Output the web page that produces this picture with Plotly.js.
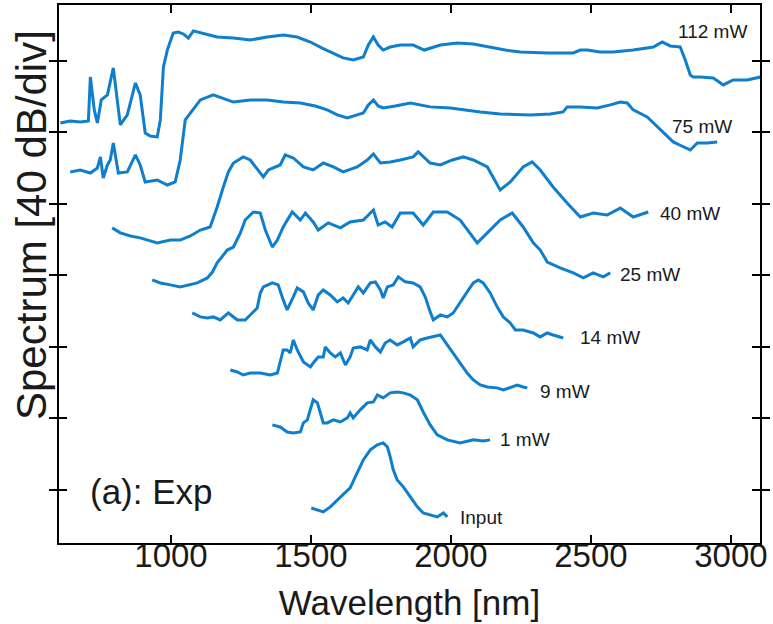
<!DOCTYPE html>
<html>
<head>
<meta charset="utf-8">
<script src="https://cdn.plot.ly/plotly-3.0.1.min.js"></script>
<style>html,body{margin:0;padding:0;background:#fff;}#chart{width:773px;height:624px;}</style>
</head>
<body>
<div id="chart"></div>
<script>
// Wavelength [nm] and spectrum [dB, offset traces]
const wl_112 = [605,640,676,705,712,726,737,751,773,794,808,819,844,873,890,908,926,951,962,973,987,1008,1026,1044,1062,1080,1123,1165,1223,1283,1344,1401,1451,1498,1540,1580,1615,1651,1687,1705,1723,1740,1758,1783,1819,1865,1905,1962,2023,2080,2140,2194,2248,2344,2437,2462,2487,2533,2580,2651,2723,2755,2783,2819,2837,2855,2865,2890,2937,2973,3008,3058,3105];
const db_112 = [205.3,206.4,205.9,206.4,231,212.6,205.3,218.2,221,236.1,218.2,204.2,209.8,227.7,221,199.7,198,197.5,207,236.6,246.1,255.6,256.2,255.1,252.8,256.8,255.1,253.4,252.8,251.7,253.4,254.5,253.4,250.6,247.2,244.5,241.7,240.5,242.2,248.9,253.4,248.9,246.1,247.8,248.9,248.9,246.1,248.9,250,249.5,247.8,246.1,245,244.5,244.5,246.1,246.1,245,245,246.1,247.8,250.6,248.4,247.8,240.5,232.1,231,231,230.5,226.6,229.4,229.4,231];

const wl_75 = [640,676,712,737,748,758,773,783,794,805,812,844,862,873,890,908,951,987,1015,1033,1051,1069,1105,1151,1223,1283,1344,1401,1462,1515,1558,1594,1630,1665,1687,1705,1723,1740,1758,1801,1855,1926,1998,2105,2176,2283,2355,2401,2415,2462,2523,2569,2605,2630,2651,2701,2730,2758,2794,2830,2855,2880,2915,2951];
const db_75 = [177.9,179,177.3,180.1,186.3,174.5,181.8,184.6,194.1,184.6,177.3,177.9,183.5,187.4,181.8,172.3,173.4,170.6,172.3,184.6,207,210.9,218.2,221,217,218.2,218.2,217,216.5,214.8,212.6,209.8,208.1,209.8,210.9,215.4,218.2,214.8,213.7,214.8,216.5,214.3,213.7,211.5,210.3,209.8,210.3,211.5,214.3,214.3,213.7,215.4,217,216.5,212.6,208.7,204.2,199.7,194.7,192,190.2,194.1,194.1,194.7];

const wl_40 = [790,819,855,890,926,951,998,1033,1069,1105,1140,1155,1165,1187,1205,1223,1258,1283,1312,1330,1348,1390,1408,1437,1473,1508,1544,1580,1615,1665,1701,1723,1748,1783,1819,1865,1883,1926,1962,2005,2044,2080,2130,2151,2176,2212,2258,2290,2319,2365,2415,2462,2508,2558,2605,2651,2705];
const db_40 = [146.6,143.8,142.1,141,139.3,138.2,139.8,139.8,142.1,145.4,147.1,153.8,158.3,169.5,177.9,182.9,186.3,184.6,179,175.1,179,181.8,187.4,185.7,180.7,179,182.9,180.7,177.9,180.7,184.6,188,182.9,183.5,184.6,186.3,189.1,182.9,181.8,184.6,186.3,184.6,180.7,175.1,167.8,172.3,180.7,183.5,179,169.5,160.5,152.7,154.9,153.8,157.7,152.7,155.5];

const wl_25 = [933,962,998,1033,1094,1130,1148,1165,1201,1223,1248,1265,1294,1319,1337,1362,1380,1401,1433,1462,1480,1508,1526,1562,1605,1640,1687,1723,1740,1765,1790,1819,1865,1901,1937,1987,2033,2069,2094,2130,2176,2219,2258,2294,2319,2344,2390,2437,2473,2508,2544,2569];
const db_25 = [117.5,115.8,114.7,113.6,115.8,118.6,121.9,127,134.2,135.9,143.8,151,155.5,154.9,145.4,135.9,139.8,147.1,155.5,151,154.9,149.9,145.4,149.4,146.6,149.9,151,156.6,148.2,149.9,147.1,154.9,154.9,148.2,155.5,155.5,151,143.8,138.2,143.8,151,154.9,147.1,138.2,134.2,127.5,124.2,121.4,118.6,121.4,119.2,121.4];

const wl_14 = [1076,1105,1130,1151,1176,1205,1237,1265,1290,1308,1319,1330,1362,1383,1401,1415,1437,1451,1473,1490,1508,1526,1544,1569,1594,1615,1633,1651,1669,1687,1712,1730,1748,1758,1773,1794,1812,1837,1865,1890,1908,1926,1937,1962,1987,2008,2033,2058,2080,2098,2115,2140,2165,2187,2212,2230,2258,2294,2319,2344,2365,2401];
const db_14 = [99,96.8,96.2,96.8,95.1,99,95.1,95.1,99,101.8,110.2,113.6,115.8,114.7,106.3,100.7,108,113,110.8,104.6,100.7,109.1,111.9,109.1,105.2,107.4,104.6,109.1,113.6,110.2,115.8,116.4,111.9,107.4,113.6,114.7,119.2,116.4,115.8,113.6,108,99.6,95.1,97.9,96.8,99,105.2,110.8,115.8,117.5,115.8,110.2,102.4,96.8,93.4,89.5,89.5,87.8,85.6,87.8,86.7,85];

const wl_9 = [1212,1237,1258,1283,1319,1355,1380,1390,1401,1415,1426,1437,1451,1473,1498,1508,1526,1544,1551,1569,1587,1605,1623,1640,1651,1676,1701,1712,1730,1748,1765,1783,1808,1830,1855,1865,1890,1915,1937,1962,1987,2008,2033,2058,2080,2105,2130,2165,2187,2212,2237,2258,2273];
const db_9 = [67.1,66,64.3,65.4,65.4,64.3,65.4,71,78.3,78.3,76.6,83.9,78.3,71.6,68.8,71,74.4,74.4,80,76.6,74.4,76.6,69.9,74.4,79.4,80,78.3,83.9,80,77.2,82.2,83.9,81.1,82.8,85,80,83.9,85,85.6,86.7,81.1,76.6,71,65.4,61.5,58.7,57.6,57.1,55.9,57.1,58.7,57.6,57.1];

const wl_1 = [1362,1390,1415,1437,1462,1473,1487,1498,1508,1523,1533,1544,1558,1580,1605,1630,1640,1651,1676,1701,1723,1737,1758,1783,1808,1830,1855,1880,1901,1926,1951,1987,2033,2080,2115,2140];
const db_1 = [36.4,35.2,32.4,31.9,32.4,37.5,39.2,44.8,50.4,48.7,43.6,37.5,37.5,39.2,38,40.3,43.1,40.3,44.8,48.7,49.2,53.1,51.5,54.3,54.8,54.3,53.1,50.4,43.6,36.4,30.8,28,26.3,28,27.4,28];

const wl_in = [1501,1522,1544,1569,1594,1615,1640,1665,1687,1712,1737,1758,1773,1783,1794,1808,1830,1855,1880,1901,1926,1951,1973,1987];
const db_in = [-10.1,-11.2,-12.3,-9.5,-5.6,-2.8,1.1,9.5,16.8,22.4,25.2,26.3,24.1,18.5,11.2,5.6,1.7,-3.9,-9.5,-12.9,-14,-15.1,-12.9,-15.1];

const seriesNames = ['112 mW','75 mW','40 mW','25 mW','14 mW','9 mW','1 mW','Input'];
const seriesX = [wl_112, wl_75, wl_40, wl_25, wl_14, wl_9, wl_1, wl_in];
const seriesY = [db_112, db_75, db_40, db_25, db_14, db_9, db_1, db_in];
// label anchor positions (nm, dB)
const labelX = [2933, 2898, 2855, 2712, 2567, 2408, 2265, 2110];
const labelY = [256.2, 203.1, 154.9, 120.3, 85, 54.8, 28, -15.7];

const xTicks = [1000,1500,2000,2500,3000];
const yTicks = [0,40,80,120,160,200,240];
const xRange = [600, 3104];
const yRange = [-29.7, 271.3];

const FONT = 'Liberation Sans, Arial, Helvetica, sans-serif';
const TXT = '#1a1a1a';
const lineColor = '#0F7ECD';

const traces = seriesX.map((xs, i) => ({
  type: 'scatter', mode: 'lines', x: xs, y: seriesY[i], name: seriesNames[i],
  line: {color: lineColor, width: 3, shape: 'linear'}, hoverinfo: 'skip'
}));
// empty trace registering the label-carrying x axis
traces.push({type: 'scatter', mode: 'lines', x: [], y: [], xaxis: 'x2', yaxis: 'y', hoverinfo: 'skip', showlegend: false});

const annotations = seriesNames.map((n, i) => ({
  x: labelX[i], y: labelY[i], xref: 'x', yref: 'y', text: n, showarrow: false,
  xanchor: 'center', yanchor: 'middle',
  font: {family: FONT, size: 19, color: TXT}
}));
annotations.push({
  x: 704, y: -1, xref: 'x', yref: 'y', text: '(a): Exp', showarrow: false,
  xanchor: 'left', yanchor: 'middle',
  font: {family: FONT, size: 35, color: TXT}
});
annotations.push({
  x: -0.04, y: 0.591, xref: 'paper', yref: 'paper', text: 'Spectrum [40 dB/div]',
  showarrow: false, textangle: -90, xanchor: 'center', yanchor: 'middle',
  font: {family: FONT, size: 42, color: TXT}
});

const layout = {
  width: 773, height: 624,
  margin: {l: 59, r: 13, t: 5, b: 81},
  paper_bgcolor: '#ffffff', plot_bgcolor: '#ffffff',
  showlegend: false,
  font: {family: FONT, color: TXT},
  xaxis: {
    range: xRange, tickvals: xTicks, showticklabels: false,
    ticks: 'inside', ticklen: 8, tickwidth: 2, tickcolor: '#000',
    showline: true, linecolor: '#000', linewidth: 2, mirror: 'allticks',
    showgrid: false, zeroline: false, automargin: false
  },
  xaxis2: {
    range: xRange, tickvals: xTicks, ticktext: xTicks.map(String),
    overlaying: 'x', anchor: 'free', position: 0.019, side: 'bottom',
    ticks: '', showline: false, showgrid: false, zeroline: false,
    tickfont: {size: 33, color: TXT},
    title: {text: 'Wavelength [nm]', font: {size: 35, color: TXT}, standoff: 17},
    automargin: false
  },
  yaxis: {
    range: yRange, tickvals: yTicks, showticklabels: false,
    ticks: 'inside', ticklen: 8, tickwidth: 2, tickcolor: '#000',
    showline: true, linecolor: '#000', linewidth: 2, mirror: 'allticks',
    showgrid: false, zeroline: false, automargin: false
  },
  annotations: annotations
};

Plotly.newPlot('chart', traces, layout, {staticPlot: true, displayModeBar: false});
</script>
</body>
</html>
